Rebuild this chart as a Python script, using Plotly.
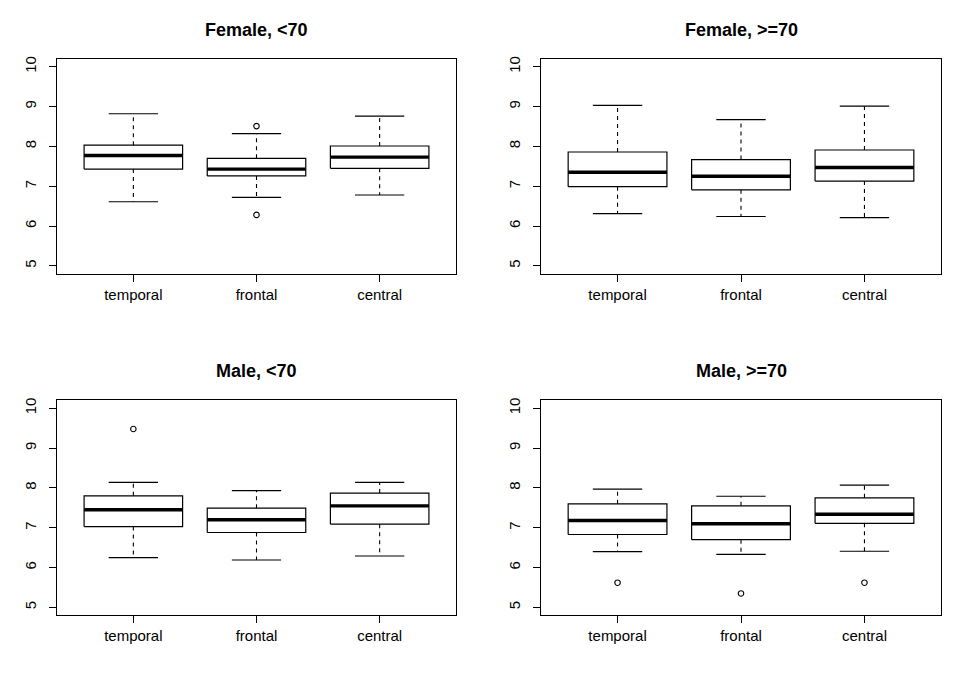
import plotly.graph_objects as go

categories = ["temporal", "frontal", "central"]
panel_titles = ["Female, <70", "Female, >=70", "Male, <70", "Male, >=70"]

# per panel: lists over categories
lower_whisker = [
    [6.61, 6.72, 6.78],
    [6.31, 6.24, 6.21],
    [6.25, 6.19, 6.29],
    [6.40, 6.33, 6.41],
]
q1 = [
    [7.43, 7.26, 7.45],
    [6.99, 6.91, 7.13],
    [7.03, 6.88, 7.09],
    [6.83, 6.70, 7.11],
]
median = [
    [7.77, 7.43, 7.73],
    [7.35, 7.25, 7.47],
    [7.45, 7.20, 7.55],
    [7.18, 7.10, 7.34],
]
q3 = [
    [8.03, 7.70, 8.01],
    [7.86, 7.67, 7.91],
    [7.80, 7.49, 7.87],
    [7.60, 7.55, 7.75],
]
upper_whisker = [
    [8.82, 8.32, 8.76],
    [9.03, 8.67, 9.01],
    [8.14, 7.93, 8.14],
    [7.97, 7.79, 8.07],
]
outliers = [
    [[], [8.51, 6.28], []],
    [[], [], []],
    [[9.48], [], []],
    [[5.62], [5.35], [5.62]],
]

y_ticks = [5, 6, 7, 8, 9, 10]

W, H = 969, 686
OFF = 8         # page body margin offset
BOXW = 0.4      # half box width (boxwex 0.8)
CAPW = 0.2      # half staple width
FONT = "Liberation Sans, Arial, Helvetica, sans-serif"

# panel plot areas in pixels (page coords): (left, right, top, bottom)
panels_px = [
    (57, 456, 56, 272),
    (541, 941, 56, 272),
    (57, 456, 399, 615),
    (541, 941, 399, 615),
]

fig = go.Figure()
layout_axes = {}

for p in range(4):
    xa = "x" if p == 0 else f"x{p+1}"
    ya = "y" if p == 0 else f"y{p+1}"
    for i, cat in enumerate(categories):
        c = i + 1
        # box
        fig.add_trace(go.Scatter(
            x=[c - BOXW, c + BOXW, c + BOXW, c - BOXW, c - BOXW],
            y=[q1[p][i], q1[p][i], q3[p][i], q3[p][i], q1[p][i]],
            mode="lines", line=dict(color="black", width=1.2),
            xaxis=xa, yaxis=ya, showlegend=False, hoverinfo="skip"))
        # whiskers (dashed)
        for a, b in ((q3[p][i], upper_whisker[p][i]), (q1[p][i], lower_whisker[p][i])):
            fig.add_trace(go.Scatter(
                x=[c, c], y=[a, b], mode="lines",
                line=dict(color="black", width=1.1, dash="4px,4px"),
                xaxis=xa, yaxis=ya, showlegend=False, hoverinfo="skip"))
        # staples
        for v in (upper_whisker[p][i], lower_whisker[p][i]):
            fig.add_trace(go.Scatter(
                x=[c - CAPW, c + CAPW], y=[v, v], mode="lines",
                line=dict(color="black", width=1.2),
                xaxis=xa, yaxis=ya, showlegend=False, hoverinfo="skip"))
        # median
        fig.add_trace(go.Scatter(
            x=[c - BOXW, c + BOXW], y=[median[p][i], median[p][i]], mode="lines",
            line=dict(color="black", width=3.4),
            xaxis=xa, yaxis=ya, showlegend=False, hoverinfo="skip"))
        # outliers
        if outliers[p][i]:
            fig.add_trace(go.Scatter(
                x=[c] * len(outliers[p][i]), y=outliers[p][i], mode="markers",
                marker=dict(symbol="circle-open", size=5.5, color="black",
                            line=dict(width=1.1)),
                xaxis=xa, yaxis=ya, showlegend=False, hoverinfo="skip"))

    l, r, t, b = [v - OFF for v in panels_px[p]]
    xdom = [l / W, r / W]
    ydom = [1 - b / H, 1 - t / H]
    xkey = "xaxis" if p == 0 else f"xaxis{p+1}"
    ykey = "yaxis" if p == 0 else f"yaxis{p+1}"
    layout_axes[xkey] = dict(
        domain=xdom, range=[0.38, 3.62], anchor=ya,
        tickvals=[1, 2, 3], ticktext=categories,
        ticks="outside", ticklen=7, tickwidth=1, tickcolor="black",
        showline=True, mirror=True, linecolor="black", linewidth=1.2,
        showgrid=False, zeroline=False,
        tickfont=dict(family=FONT, size=15, color="black"),
        fixedrange=True)
    layout_axes[ykey] = dict(
        domain=ydom, range=[4.8, 10.2], anchor=xa,
        tickvals=y_ticks, ticktext=[str(v) for v in y_ticks],
        tickangle=-90, ticklabelstandoff=7,
        ticks="outside", ticklen=7, tickwidth=1, tickcolor="black",
        showline=True, mirror=True, linecolor="black", linewidth=1.2,
        showgrid=False, zeroline=False,
        tickfont=dict(family=FONT, size=15, color="black"),
        fixedrange=True)

annotations = []
for p in range(4):
    l, r, t, b = [v - OFF for v in panels_px[p]]
    annotations.append(dict(
        text=f"<b>{panel_titles[p]}</b>", xref="paper", yref="paper",
        x=(l + r) / 2 / W, y=1 - (t - 29) / H, xanchor="center", yanchor="middle",
        showarrow=False, font=dict(family=FONT, size=18, color="black")))

fig.update_layout(
    width=W, height=H,
    margin=dict(l=0, r=0, t=0, b=0),
    paper_bgcolor="white", plot_bgcolor="white",
    annotations=annotations,
    **layout_axes)

fig.write_html("out.html")
